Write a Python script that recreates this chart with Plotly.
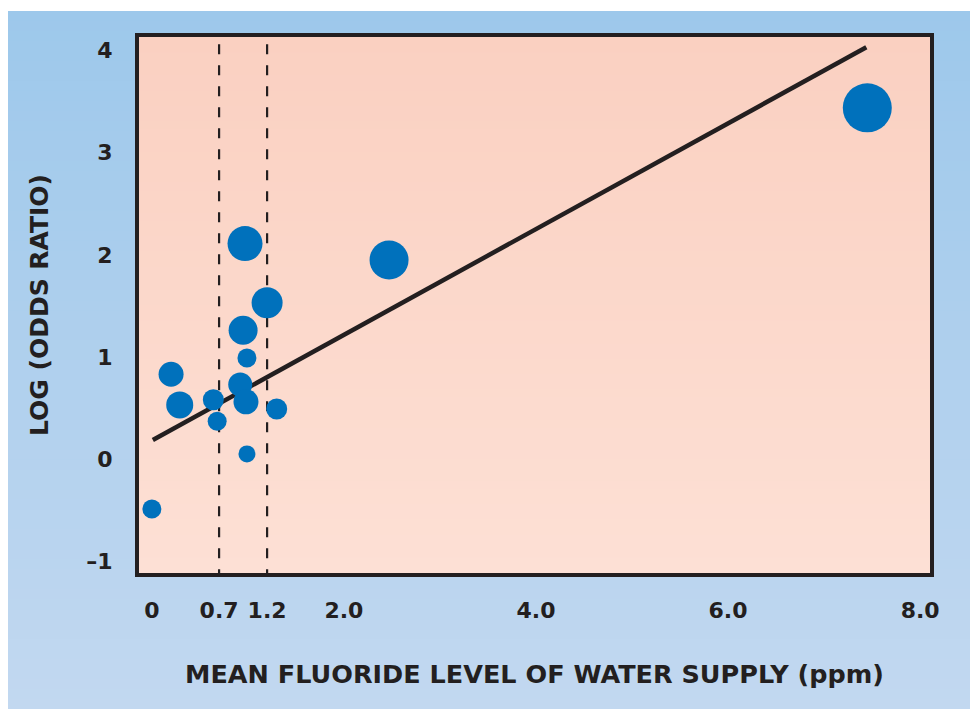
import plotly.graph_objects as go

# ---- data ----
fluoride_ppm = [0.00, 0.20, 0.29, 0.64, 0.68, 0.92, 0.98, 0.99, 0.95, 0.97, 1.20, 1.30, 0.99, 2.47, 7.45]
log_odds     = [-0.49, 0.83, 0.53, 0.58, 0.37, 0.73, 0.56, 0.99, 1.26, 2.11, 1.53, 0.49, 0.05, 1.95, 3.44]
study_weight = [19, 25, 27, 21, 19, 24, 25, 19, 29, 35, 31, 21, 17, 39, 49]

fit_intercept = 0.18
fit_slope = 0.518
fit_x_span = [0.01, 7.44]

reference_levels = [0.7, 1.2]
reference_top = 4.08

x_tickvals = [0, 0.7, 1.2, 2.0, 4.0, 6.0, 8.0]
x_ticktext = ["0", "0.7", "1.2", "2.0", "4.0", "6.0", "8.0"]
y_tickvals = [-1, 0, 1, 2, 3, 4]
y_ticktext = ["\u20131", "0", "1", "2", "3", "4"]

x_title = "MEAN FLUORIDE LEVEL OF WATER SUPPLY (ppm)"
y_title = "LOG (ODDS RATIO)"

# ---- styling ----
W, H = 970, 709
ML, MR, MT, MB = 139, 40, 37, 136
PW, PH = W - ML - MR, H - MT - MB
FONT = "'DejaVu Sans', sans-serif"
INK = "#231F20"
DOT = "#0071BC"


def lerp(c1, c2, t):
    a = [int(c1[i:i + 2], 16) for i in (1, 3, 5)]
    b = [int(c2[i:i + 2], 16) for i in (1, 3, 5)]
    return "rgb(%d,%d,%d)" % tuple(round(a[k] + (b[k] - a[k]) * t) for k in range(3))


shapes = []
# blue page gradient (paper coords)
bx0, bx1 = (8 - ML) / PW, (W - ML) / PW
by_top, by_bot = (H - MB - 11) / PH, (H - MB - H) / PH
N = 70
for i in range(N):
    t0, t1 = i / N, (i + 1) / N
    shapes.append(dict(type="rect", xref="paper", yref="paper", layer="below",
                       x0=bx0, x1=bx1,
                       y0=by_top - (by_top - by_bot) * t1 - 0.002,
                       y1=by_top - (by_top - by_bot) * t0,
                       line=dict(width=0),
                       fillcolor=lerp("#9DC8EB", "#C2D8F0", (t0 + t1) / 2)))
# salmon plot-area gradient
for i in range(N):
    t0, t1 = i / N, (i + 1) / N
    shapes.append(dict(type="rect", xref="paper", yref="paper", layer="below",
                       x0=0, x1=1, y0=1 - t1 - 0.002, y1=1 - t0,
                       line=dict(width=0),
                       fillcolor=lerp("#FAD0C1", "#FDE0D5", (t0 + t1) / 2)))

fig = go.Figure()

# dashed reference lines
for lv in reference_levels:
    fig.add_trace(go.Scatter(x=[lv, lv], y=[-2, reference_top], mode="lines",
                             line=dict(color=INK, width=2.2, dash="10px,11px"),
                             hoverinfo="skip", showlegend=False))

# regression line
fig.add_trace(go.Scatter(x=fit_x_span,
                         y=[fit_intercept + fit_slope * v for v in fit_x_span],
                         mode="lines", line=dict(color=INK, width=4.5),
                         hoverinfo="skip", showlegend=False))

# studies
fig.add_trace(go.Scatter(x=fluoride_ppm, y=log_odds, mode="markers",
                         marker=dict(size=study_weight, sizemode="diameter", color=DOT,
                                     line=dict(width=0), opacity=1),
                         showlegend=False))

axis_common = dict(showgrid=False, zeroline=False, showline=True, mirror=True,
                   linecolor=INK, linewidth=4, ticks="",
                   tickfont=dict(family=FONT, size=22, color=INK, weight="bold"))

fig.update_layout(
    width=W, height=H,
    margin=dict(l=ML, r=MR, t=MT, b=MB, pad=0),
    paper_bgcolor="white",
    plot_bgcolor="rgba(0,0,0,0)",
    shapes=shapes,
    showlegend=False,
    xaxis=dict(range=[-0.134, 8.103], tickmode="array", tickvals=x_tickvals,
               ticktext=x_ticktext, ticklabelstandoff=15,
               title=dict(text=x_title, standoff=44,
                          font=dict(family=FONT, size=25.5, color=INK, weight="bold")),
               **axis_common),
    yaxis=dict(range=[-1.117, 4.134], tickmode="array", tickvals=y_tickvals,
               ticktext=y_ticktext, ticklabelstandoff=18,
               title=dict(text=y_title, standoff=32,
                          font=dict(family=FONT, size=25, color=INK, weight="bold")),
               **axis_common),
)

fig.write_html("out.html")
